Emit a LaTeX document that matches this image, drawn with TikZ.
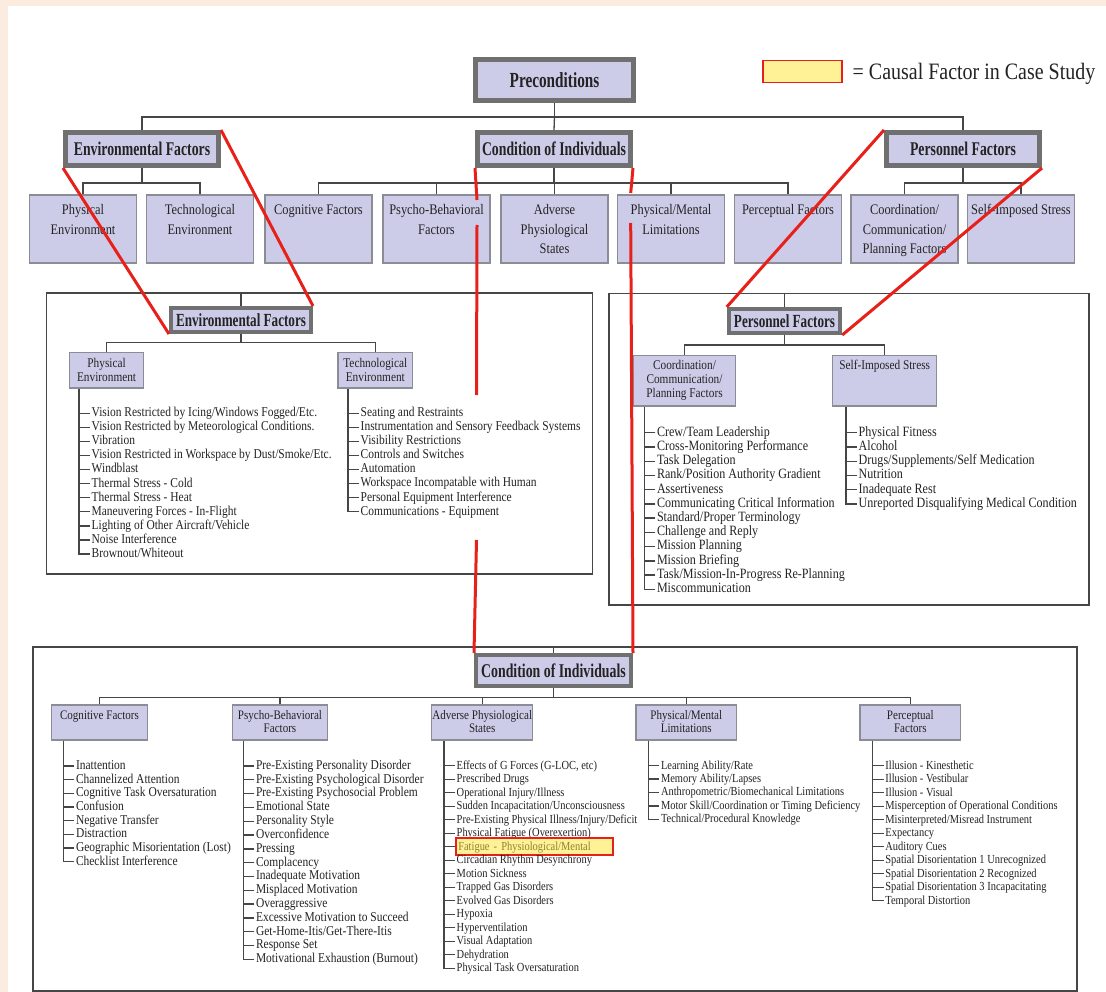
\documentclass[tikz,border=0pt]{standalone}
\usepackage{fontspec}
\setmainfont{Liberation Serif}[FakeStretch=0.85]
\newfontfamily\headfont{Liberation Serif}[FakeStretch=0.71]

\definecolor{peach}{RGB}{252,236,224}
\definecolor{lav}{RGB}{205,204,232}
\definecolor{framegray}{RGB}{112,112,112}
\definecolor{boxedge}{RGB}{140,140,150}
\definecolor{linegray}{RGB}{70,70,70}
\definecolor{inkgray}{RGB}{35,35,35}
\definecolor{causalfill}{RGB}{255,242,150}
\definecolor{causalred}{RGB}{232,32,26}
\definecolor{causalink}{RGB}{140,130,50}

\tikzset{
  headbox/.style={draw=framegray, line width=5pt, fill=lav, inner sep=0pt, text=inkgray,
    font=\headfont\bfseries\fontsize{19.4}{22}\selectfont},
  subhead/.style={headbox, line width=4pt, font=\headfont\bfseries\fontsize{18.5}{20}\selectfont},
  catbox/.style={draw=boxedge, line width=1.3pt, fill=lav, inner sep=0pt},
  cattxt/.style={anchor=north, align=center, inner sep=0pt, text=inkgray,
    font=\fontsize{14.6}{19.5}\selectfont},
  subtxt/.style={cattxt, font=\fontsize{13.3}{14}\selectfont},
  bottxt/.style={cattxt, font=\fontsize{13}{13.3}\selectfont},
  frame/.style={draw=linegray, line width=1.5pt, inner sep=0pt},
  link/.style={draw=linegray, line width=1.3pt},
  redlink/.style={draw=causalred, line width=3pt},
  item/.style={anchor=west, inner xsep=1.5pt, inner ysep=0pt, text height=9.5pt, text depth=2.8pt,
    text=inkgray, font=\fontsize{13.5}{14}\selectfont},
  peritem/.style={item, font=\fontsize{14.2}{14.5}\selectfont},
  smallitem/.style={item, font=\fontsize{12.3}{13}\selectfont},
  causal/.style={smallitem, fill=causalfill, draw=causalred, line width=1.5pt, text width=152pt,
    inner xsep=2.5pt, minimum height=17pt, text=causalink},
  legendbox/.style={draw=causalred, fill=causalfill, line width=1.5pt, inner sep=0pt}
}

\begin{document}
\begin{tikzpicture}[x=1pt, y=-1pt]
  \useasboundingbox (0,0) rectangle (1106,992);
  \fill[peach] (0,0) rectangle (1106,992);
  \fill[white] (8,6) rectangle (1106,992);

  % legend
  \node[legendbox, minimum width=79pt, minimum height=22pt] (legend) at (802.3,71.5) {};
  \node[anchor=west, inner sep=0pt, text=inkgray, font=\fontsize{23.5}{26}\selectfont] (legendtxt) at (852.5,74) {= Causal Factor in Case Study};

  % detail panels
  \node[frame, minimum width=546pt, minimum height=281pt] (envFrame) at (319.5,433.5) {};
  \node[frame, minimum width=479.7pt, minimum height=311.7pt] (persFrame) at (848.9,449.2) {};
  \node[frame, minimum width=1044.3pt, minimum height=343.7pt] (coiFrame) at (554.9,818.9) {};

  % top tree
  \node[headbox, minimum width=158pt, minimum height=41pt, font=\headfont\bfseries\fontsize{21.5}{24}\selectfont] (pre) at (554.5,80) {Preconditions};
  \node[headbox, minimum width=153pt, minimum height=33pt] (envTop) at (142,149) {Environmental Factors};
  \node[headbox, minimum width=153pt, minimum height=33pt] (coiTop) at (554,149) {Condition of Individuals};
  \node[headbox, minimum width=153pt, minimum height=33pt] (persTop) at (963,149) {Personnel Factors};

  \foreach \nm/\x in {physTop/83, techTop/200, cogTop/318.5, psyTop/436.5, advTop/554.5,
                      pmlTop/671, perTop/788, ccpTop/904.5, sisTop/1021}
    \node[catbox, minimum width=107pt, minimum height=68pt] (\nm) at (\x,229) {};

  \coordinate (topBar) at (554.5,117);
  \draw[link] (pre.south) -- (topBar);
  \draw[link] (envTop.north) |- (topBar) -| (persTop.north);
  \draw[link] (coiTop.north) -- (topBar);

  \coordinate (envBar) at (142,183);
  \draw[link] (envTop.south) -- (envBar);
  \draw[link] (physTop.north) |- (envBar) -| (techTop.north);
  \coordinate (coiBar) at (554,183);
  \draw[link] (coiTop.south) -- (coiBar);
  \draw[link] (cogTop.north) |- (coiBar) -| (perTop.north);
  \foreach \nm in {psyTop, advTop, pmlTop}
    \draw[link] (\nm.north) -- (\nm.north |- coiBar);
  \coordinate (persBar) at (963,183);
  \draw[link] (persTop.south) -- (persBar);
  \draw[link] (ccpTop.north) |- (persBar) -| (sisTop.north);

  % environmental panel
  \node[subhead, minimum width=140pt, minimum height=24pt] (envSub) at (241,320) {Environmental Factors};
  \node[catbox, minimum width=74pt, minimum height=35.3pt] (physSub) at (106.6,370.4) {};
  \node[catbox, minimum width=74.5pt, minimum height=35.3pt] (techSub) at (375.3,370.4) {};
  \draw[link] (envFrame.north -| envSub.north) -- (envSub.north);
  \coordinate (envSubBar) at (241,342.7);
  \draw[link] (envSub.south) -- (envSubBar);
  \draw[link] (physSub.north) |- (envSubBar) -| (techSub.north);

  % personnel panel
  \node[subhead, minimum width=111.5pt, minimum height=24pt] (persSub) at (784.5,321) {Personnel Factors};
  \node[catbox, minimum width=102.4pt, minimum height=50.7pt] (ccpSub) at (684.5,380.7) {};
  \node[catbox, minimum width=104pt, minimum height=50.7pt] (sisSub) at (884.7,380.7) {};
  \draw[link] (persFrame.north -| persSub.north) -- (persSub.north);
  \coordinate (persSubBar) at (784.5,345);
  \draw[link] (persSub.south) -- (persSubBar);
  \draw[link] (ccpSub.north) |- (persSubBar) -| (sisSub.north);

  % condition of individuals panel
  \node[subhead, minimum width=155pt, minimum height=31pt, font=\headfont\bfseries\fontsize{19.5}{22}\selectfont] (coiBot) at (553.5,670.5) {Condition of Individuals};
  \foreach \nm/\x/\w in {cogBot/99.5/95.6, psyBot/280/94.6, advBot/482.2/101, pmlBot/686.3/100.7, perBot/910.3/100.7}
    \node[catbox, minimum width=\w pt, minimum height=35pt] (\nm) at (\x,722.5) {};
  \draw[link] (coiFrame.north -| coiBot.north) -- (coiBot.north);
  \coordinate (coiBotBar) at (553.5,697.3);
  \draw[link] (coiBot.south) -- (coiBotBar);
  \draw[link] (cogBot.north) |- (coiBotBar) -| (perBot.north);
  \foreach \nm in {psyBot, advBot, pmlBot}
    \draw[link] (\nm.north) -- (\nm.north |- coiBotBar);

  % vertical causal lines, broken where text sits on them
  \coordinate (gapA) at (477,200);
  \coordinate (gapB) at (477,225);
  \coordinate (gapC) at (476.5,395);
  \coordinate (gapD) at (476.5,540);
  \coordinate (gapE) at (630.7,193);
  \coordinate (gapF) at (630.7,223);
  \draw[redlink] (coiTop.south west) -- (gapA) (gapB) -- (gapC) (gapD) -- (coiBot.north west);
  \draw[redlink] (coiTop.south east) -- (gapE) (gapF) -- (coiBot.north east);

  % box labels
  \foreach \nm/\txt in {physTop/{Physical\\Environment}, techTop/{Technological\\Environment},
      cogTop/{Cognitive Factors}, psyTop/{Psycho-Behavioral\\Factors}, advTop/{Adverse\\Physiological\\States},
      pmlTop/{Physical/Mental\\Limitations}, perTop/{Perceptual Factors},
      ccpTop/{Coordination/\\Communication/\\Planning Factors}, sisTop/{Self-Imposed Stress}}
    \node[cattxt] (\nm-t) at ([yshift=-10pt]\nm.north) {\txt};
  \foreach \nm/\txt in {physSub/{Physical\\Environment}, techSub/{Technological\\Environment},
      ccpSub/{Coordination/\\Communication/\\Planning Factors}, sisSub/{Self-Imposed Stress}}
    \node[subtxt] (\nm-t) at ([yshift=-5.5pt]\nm.north) {\txt};
  \foreach \nm/\txt in {cogBot/{Cognitive Factors}, psyBot/{Psycho-Behavioral\\Factors},
      advBot/{Adverse Physiological\\States}, pmlBot/{Physical/Mental\\Limitations}, perBot/{Perceptual\\Factors}}
    \node[bottxt] (\nm-t) at ([yshift=-6pt]\nm.north) {\txt};

  % lists
  \coordinate (peL) at (physSub.south -| 79,0);
  \foreach \txt [count=\i] in {Vision Restricted by Icing/Windows Fogged/Etc., Vision Restricted by Meteorological Conditions.,
      Vibration, Vision Restricted in Workspace by Dust/Smoke/Etc., Windblast, Thermal Stress - Cold,
      Thermal Stress - Heat, Maneuvering Forces - In-Flight, Lighting of Other Aircraft/Vehicle,
      Noise Interference, Brownout/Whiteout} {
    \node[item] (pe-\i) at (90,{413.3+14.07*(\i-1)}) {\txt};
    \draw[link] (pe-\i.west) -- (pe-\i.west -| peL);
  }
  \draw[link] (peL) |- (pe-11.west);

  \coordinate (teL) at (techSub.south -| 348,0);
  \foreach \txt [count=\i] in {Seating and Restraints, Instrumentation and Sensory Feedback Systems,
      Visibility Restrictions, Controls and Switches, Automation, Workspace Incompatable with Human,
      Personal Equipment Interference, Communications - Equipment} {
    \node[item] (te-\i) at (359,{413.3+14.06*(\i-1)}) {\txt};
    \draw[link] (te-\i.west) -- (te-\i.west -| teL);
  }
  \draw[link] (teL) |- (te-8.west);

  \coordinate (ccL) at (ccpSub.south -| 644.3,0);
  \foreach \txt [count=\i] in {Crew/Team Leadership, Cross-Monitoring Performance, Task Delegation,
      Rank/Position Authority Gradient, Assertiveness, Communicating Critical Information,
      Standard/Proper Terminology, Challenge and Reply, Mission Planning, Mission Briefing,
      Task/Mission-In-Progress Re-Planning, Miscommunication} {
    \node[peritem] (cc-\i) at (655.3,{432.7+14.24*(\i-1)}) {\txt};
    \draw[link] (cc-\i.west) -- (cc-\i.west -| ccL);
  }
  \draw[link] (ccL) |- (cc-12.west);

  \coordinate (siL) at (sisSub.south -| 846,0);
  \foreach \txt [count=\i] in {Physical Fitness, Alcohol, Drugs/Supplements/Self Medication, Nutrition,
      Inadequate Rest, Unreported Disqualifying Medical Condition} {
    \node[peritem] (si-\i) at (857,{432.7+14.26*(\i-1)}) {\txt};
    \draw[link] (si-\i.west) -- (si-\i.west -| siL);
  }
  \draw[link] (siL) |- (si-6.west);

  \coordinate (cgL) at (cogBot.south -| 63.3,0);
  \foreach \txt [count=\i] in {Inattention, Channelized Attention, Cognitive Task Oversaturation, Confusion,
      Negative Transfer, Distraction, Geographic Misorientation (Lost), Checklist Interference} {
    \node[item] (cg-\i) at (74.3,{766+13.67*(\i-1)}) {\txt};
    \draw[link] (cg-\i.west) -- (cg-\i.west -| cgL);
  }
  \draw[link] (cgL) |- (cg-8.west);

  \coordinate (pbL) at (psyBot.south -| 243.3,0);
  \foreach \txt [count=\i] in {Pre-Existing Personality Disorder, Pre-Existing Psychological Disorder,
      Pre-Existing Psychosocial Problem, Emotional State, Personality Style, Overconfidence, Pressing,
      Complacency, Inadequate Motivation, Misplaced Motivation, Overaggressive,
      Excessive Motivation to Succeed, Get-Home-Itis/Get-There-Itis, Response Set,
      Motivational Exhaustion (Burnout)} {
    \node[item] (pb-\i) at (254.3,{766+13.81*(\i-1)}) {\txt};
    \draw[link] (pb-\i.west) -- (pb-\i.west -| pbL);
  }
  \draw[link] (pbL) |- (pb-15.west);

  \coordinate (apL) at (advBot.south -| 444,0);
  \foreach \txt [count=\i] in {{Effects of G Forces (G-LOC, etc)}, Prescribed Drugs, Operational Injury/Illness,
      Sudden Incapacitation/Unconsciousness, Pre-Existing Physical Illness/Injury/Deficit,
      Physical Fatigue (Overexertion), Fatigue - Physiological/Mental, Circadian Rhythm Desynchrony,
      Motion Sickness, Trapped Gas Disorders, Evolved Gas Disorders, Hypoxia, Hyperventilation,
      Visual Adaptation, Dehydration, Physical Task Oversaturation} {
    \ifnum\i=7 \tikzset{apstyle/.style={causal}}\else\tikzset{apstyle/.style={smallitem}}\fi
    \node[apstyle] (ap-\i) at (455,{765.7+13.5*(\i-1)}) {\txt};
    \draw[link] (ap-\i.west) -- (ap-\i.west -| apL);
  }
  \draw[link] (apL) |- (ap-16.west);

  \coordinate (pmL) at (pmlBot.south -| 648.3,0);
  \foreach \txt [count=\i] in {Learning Ability/Rate, Memory Ability/Lapses,
      Anthropometric/Biomechanical Limitations, Motor Skill/Coordination or Timing Deficiency,
      Technical/Procedural Knowledge} {
    \node[smallitem] (pm-\i) at (659.3,{765.7+13.4*(\i-1)}) {\txt};
    \draw[link] (pm-\i.west) -- (pm-\i.west -| pmL);
  }
  \draw[link] (pmL) |- (pm-5.west);

  \coordinate (pfL) at (perBot.south -| 872.7,0);
  \foreach \txt [count=\i] in {Illusion - Kinesthetic, Illusion - Vestibular, Illusion - Visual,
      Misperception of Operational Conditions, Misinterpreted/Misread Instrument, Expectancy,
      Auditory Cues, Spatial Disorientation 1 Unrecognized, Spatial Disorientation 2 Recognized,
      Spatial Disorientation 3 Incapacitating, Temporal Distortion} {
    \node[smallitem] (pf-\i) at (883.7,{765.7+13.5*(\i-1)}) {\txt};
    \draw[link] (pf-\i.west) -- (pf-\i.west -| pfL);
  }
  \draw[link] (pfL) |- (pf-11.west);

  % zoom lines from the overview boxes to their panels
  \draw[redlink] (envTop.south west) -- (envSub.south west);
  \draw[redlink] (envTop.north east) -- (envSub.north east);
  \draw[redlink] (persTop.north west) -- (persSub.north west);
  \draw[redlink] (persTop.south east) -- (persSub.south east);
\end{tikzpicture}
\end{document}
